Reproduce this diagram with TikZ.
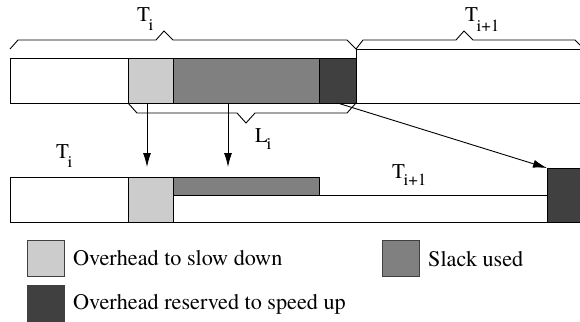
\documentclass[tikz,border=0pt]{standalone}
\usepackage{fontspec}
\setmainfont{TeX Gyre Termes}
\usetikzlibrary{arrows.meta}
\definecolor{lightgr}{HTML}{CCCCCC}
\definecolor{midgr}{HTML}{808080}
\definecolor{darkgr}{HTML}{404040}

% label with a large, tucked-in subscript: \PeriodLabel{letter}{subscript}{drop}
\newcommand{\PeriodLabel}[3]{#1\kern-1.5pt\raisebox{-#3pt}{\fontsize{17}{17}\selectfont #2}}

\begin{document}
\begin{tikzpicture}[x=1pt,y=-1pt,
  seg/.style={draw=black, line width=0.9pt, inner sep=0pt, outer sep=0pt, anchor=north west},
  keybox/.style={draw=black!75, line width=0.8pt, inner sep=0pt, outer sep=0pt, anchor=north west,
                 minimum width=37, minimum height=36},
  brace/.style={draw=black, line width=0.9pt, line join=miter},
  lab/.style={inner sep=0pt, anchor=base west, font=\fontsize{21}{24}\selectfont},
  keytext/.style={inner sep=0pt, anchor=base west, font=\fontsize{22.2}{25}\selectfont},
  drop/.style={-{Latex[length=14pt,width=8pt]}, line width=0.9pt}
]
\clip (0,0) rectangle (580,321);

% ---- upper time line: period T_i followed by T_{i+1}
\node[seg, fill=white,   minimum width=240, minimum height=54] (nx1) at (356,49) {};
\node[seg, fill=white,   minimum width=118, minimum height=45] (w1)  at (10,58) {};
\node[seg, fill=lightgr, minimum width=45,  minimum height=45] (lg1) at (128,58) {};
\node[seg, fill=midgr,   minimum width=146, minimum height=45] (md1) at (173,58) {};
\node[seg, fill=darkgr,  minimum width=37,  minimum height=45] (dk1) at (319,58) {};

% braces
\draw[brace] (10,49) -- (18,40) -- (156,40) -- (164,31) -- (173,40) -- (347,40) -- (356,49);
\draw[brace] (356,49) -- (363,40) -- (456,40) -- (464,31) -- (473,40) -- (575,40) -- (584,49);
\draw[brace] (128,103) -- (137,113) -- (237,113) -- (246,123) -- (255,113) -- (347,113) -- (356,103);

\node[lab] (tTi)  at (137,22) {\PeriodLabel{T}{i}{9}};
\node[lab] (tTn)  at (465,22) {\PeriodLabel{T}{i+1}{10}};
\node[lab] (lLi)  at (255,142) {\PeriodLabel{L}{i}{7}};

% ---- lower time line after the slow-down
\node[seg, fill=white,   minimum width=118, minimum height=45] (w2)    at (10,177) {};
\node[seg, fill=lightgr, minimum width=45,  minimum height=45] (lg2)   at (128,177) {};
\node[seg, fill=white,   minimum width=374, minimum height=27] (tail2) at (173,195) {};
\node[seg, fill=midgr,   minimum width=146, minimum height=18] (md2)   at (173,177) {};
\node[seg, fill=darkgr,  minimum width=40,  minimum height=54] (dk2)   at (547,168) {};

\node[lab] (bTi) at (56,158)  {\PeriodLabel{T}{i}{9}};
\node[lab] (bTn) at (392,178) {\PeriodLabel{T}{i+1}{7}};

% ---- arrows
\coordinate (a1s) at (147,103);
\coordinate (a1e) at (147,167);
\coordinate (a2s) at (228,103);
\coordinate (a2e) at (228,167);
\draw[drop] (a1s) -- (a1e);
\draw[drop] (a2s) -- (a2e);
\draw[drop] (dk1.south) -- (dk2.north west);

% ---- key
\node[keybox, fill=lightgr] (k1) at (27,240) {};
\node[keybox, fill=midgr]   (k2) at (382,240) {};
\node[keybox, fill=darkgr]  (k3) at (27,285) {};
\node[keytext] (t1) at (73,265)  {Overhead to slow down};
\node[keytext] (t2) at (428,266) {Slack used};
\node[keytext] (t3) at (73,309)  {Overhead reserved to speed up};
\end{tikzpicture}
\end{document}
